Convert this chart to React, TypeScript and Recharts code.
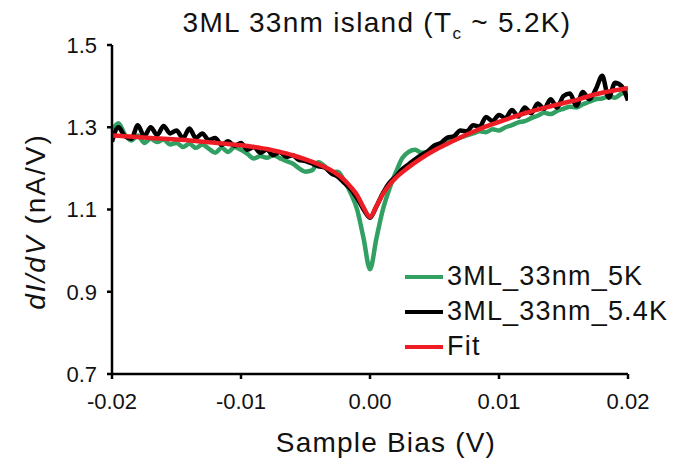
import { LineChart, Line, XAxis, YAxis, Label } from 'recharts'

// sample bias (V), 0.5 mV steps
const bias = [
  -0.02, -0.0195, -0.019, -0.0185, -0.018, -0.0175, -0.017, -0.0165, -0.016, -0.0155,
  -0.015, -0.0145, -0.014, -0.0135, -0.013, -0.0125, -0.012, -0.0115, -0.011, -0.0105,
  -0.01, -0.0095, -0.009, -0.0085, -0.008, -0.0075, -0.007, -0.0065, -0.006, -0.0055,
  -0.005, -0.0045, -0.004, -0.0035, -0.003, -0.0025, -0.002, -0.0015, -0.001, -0.0005,
  0, 0.0005, 0.001, 0.0015, 0.002, 0.0025, 0.003, 0.0035, 0.004, 0.0045,
  0.005, 0.0055, 0.006, 0.0065, 0.007, 0.0075, 0.008, 0.0085, 0.009, 0.0095,
  0.01, 0.0105, 0.011, 0.0115, 0.012, 0.0125, 0.013, 0.0135, 0.014, 0.0145,
  0.015, 0.0155, 0.016, 0.0165, 0.017, 0.0175, 0.018, 0.0185, 0.019, 0.0195, 0.02
]

const didv5K = [
  1.29, 1.31, 1.282, 1.268, 1.28, 1.262, 1.272, 1.264, 1.27, 1.258,
  1.262, 1.252, 1.26, 1.25, 1.258, 1.248, 1.238, 1.25, 1.24, 1.252,
  1.245, 1.235, 1.224, 1.23, 1.226, 1.232, 1.225, 1.218, 1.212, 1.2,
  1.192, 1.195, 1.215, 1.205, 1.19, 1.192, 1.17, 1.14, 1.1, 1.03,
  0.955, 1.03, 1.1, 1.15, 1.19, 1.225, 1.24, 1.245, 1.238, 1.24,
  1.25, 1.255, 1.265, 1.268, 1.275, 1.28, 1.285, 1.29, 1.288, 1.295,
  1.292, 1.3, 1.305, 1.312, 1.315, 1.322, 1.328, 1.335, 1.332, 1.34,
  1.345, 1.35, 1.348, 1.356, 1.362, 1.368, 1.37, 1.375, 1.372, 1.382, 1.385
]

const didv54K = [
  1.265, 1.3, 1.278, 1.272, 1.305, 1.278, 1.3, 1.281, 1.303, 1.285,
  1.292, 1.273, 1.297, 1.274, 1.285, 1.269, 1.274, 1.257, 1.266, 1.255,
  1.262, 1.245, 1.252, 1.238, 1.246, 1.232, 1.24, 1.228, 1.232, 1.22,
  1.218, 1.212, 1.205, 1.202, 1.188, 1.18, 1.165, 1.15, 1.128, 1.1,
  1.08, 1.108, 1.14, 1.165, 1.18, 1.198, 1.21, 1.222, 1.233, 1.242,
  1.256, 1.262, 1.275, 1.278, 1.292, 1.29, 1.305, 1.302, 1.325, 1.315,
  1.33, 1.322, 1.342, 1.326, 1.348, 1.334, 1.358, 1.345, 1.368, 1.348,
  1.376, 1.382, 1.352, 1.386, 1.368, 1.392, 1.425, 1.372, 1.408, 1.4, 1.365
]

const fitBias = [
  -0.02, -0.019, -0.018, -0.017, -0.016, -0.015, -0.014, -0.013, -0.012, -0.011,
  -0.01, -0.009, -0.008, -0.007, -0.006, -0.005, -0.004, -0.003, -0.002, -0.0015,
  -0.001, -0.0005, 0, 0.0005, 0.001, 0.0015, 0.002, 0.003, 0.004, 0.005,
  0.006, 0.007, 0.008, 0.009, 0.01, 0.011, 0.012, 0.013, 0.014, 0.015,
  0.016, 0.017, 0.018, 0.019, 0.02
]

const fitValues = [
  1.28, 1.278, 1.276, 1.274, 1.272, 1.27, 1.268, 1.265, 1.262, 1.259,
  1.256, 1.252, 1.247, 1.24, 1.232, 1.222, 1.21, 1.195, 1.172, 1.155,
  1.135, 1.105, 1.082, 1.108, 1.138, 1.16, 1.177, 1.203, 1.225, 1.244,
  1.26, 1.275, 1.289, 1.302, 1.313, 1.324, 1.334, 1.343, 1.351, 1.359,
  1.366, 1.376, 1.384, 1.39, 1.395
]

const xTicks = [-0.02, -0.01, 0, 0.01, 0.02]
const yTicks = [0.7, 0.9, 1.1, 1.3, 1.5]

const seriesNames = ['3ML_33nm_5K', '3ML_33nm_5.4K', 'Fit']
const seriesColors = ['#31a062', '#000000', '#ee1c24']

const FONT = '"Liberation Sans", Arial, sans-serif'

const measured = bias.map((x, i) => ({ x, g: didv5K[i], b: didv54K[i] }))
const fitted = fitBias.map((x, i) => ({ x, fit: fitValues[i] }))

function LegendBox() {
  return (
    <div
      style={{
        position: 'absolute', left: 405, top: 259,
        fontFamily: FONT, fontSize: 27, letterSpacing: 1.2, color: '#111', lineHeight: 1
      }}
    >
      {seriesNames.map((name, i) => (
        <div key={name} style={{ display: 'flex', alignItems: 'center', height: 35 }}>
          <span style={{ width: 38, height: 4, background: seriesColors[i], marginRight: 4 }} />
          <span>{name}</span>
        </div>
      ))}
    </div>
  )
}

export default function App() {
  return (
    <div style={{ position: 'relative', width: 681, height: 467, background: '#fff' }}>
      <style>{'body{margin:0}'}</style>
      <LineChart
        width={681}
        height={467}
        margin={{ top: 45, right: 53, bottom: 53, left: 47 }}
        style={{ fontFamily: FONT }}
      >
        <XAxis
          type="number"
          dataKey="x"
          domain={[-0.02, 0.02]}
          ticks={xTicks}
          tickFormatter={(v: number) => v.toFixed(2)}
          allowDataOverflow
          height={40}
          stroke="#000"
          strokeWidth={2.5}
          tickSize={5}
          tickMargin={14}
          tick={{ fill: '#111', fontSize: 22 }}
        >
          <Label
            content={(props: any) => {
              const vb = props.viewBox
              return (
                <text
                  x={vb.x + vb.width / 2 + 16}
                  y={vb.y + 78}
                  textAnchor="middle"
                  fontSize={28}
                  letterSpacing={1.2}
                  fill="#111"
                >
                  Sample Bias (V)
                </text>
              )
            }}
          />
        </XAxis>
        <YAxis
          type="number"
          domain={[0.7, 1.5]}
          ticks={yTicks}
          tickFormatter={(v: number) => v.toFixed(1)}
          allowDataOverflow
          width={65}
          stroke="#000"
          strokeWidth={2.5}
          tickSize={5}
          tickMargin={10}
          tick={{ fill: '#111', fontSize: 22 }}
        >
          <Label
            content={(props: any) => {
              const vb = props.viewBox
              const cx = 35
              const cy = vb.y + vb.height / 2 + 12
              return (
                <text
                  x={cx}
                  y={cy}
                  transform={`rotate(-90 ${cx} ${cy})`}
                  textAnchor="middle"
                  dominantBaseline="central"
                  fontSize={28}
                  letterSpacing={2}
                  fill="#111"
                >
                  <tspan fontStyle="italic">dI/dV</tspan>
                  <tspan> (nA/V)</tspan>
                </text>
              )
            }}
          />
        </YAxis>
        <Line
          data={measured}
          dataKey="g"
          name={seriesNames[0]}
          stroke={seriesColors[0]}
          strokeWidth={4.5}
          dot={false}
          type="monotone"
          isAnimationActive={false}
        />
        <Line
          data={measured}
          dataKey="b"
          name={seriesNames[1]}
          stroke={seriesColors[1]}
          strokeWidth={4.5}
          dot={false}
          type="monotone"
          isAnimationActive={false}
        />
        <Line
          data={fitted}
          dataKey="fit"
          name={seriesNames[2]}
          stroke={seriesColors[2]}
          strokeWidth={4.5}
          dot={false}
          type="monotone"
          isAnimationActive={false}
        />
      </LineChart>
      <div
        style={{
          position: 'absolute', top: 6, left: 0, width: 754, textAlign: 'center',
          fontFamily: FONT, fontSize: 28, letterSpacing: 1.3, color: '#111',
          whiteSpace: 'nowrap', lineHeight: 1.2
        }}
      >
        3ML 33nm island (T<sub style={{ fontSize: 17, lineHeight: 0 }}>c</sub> ~ 5.2K)
      </div>
      <LegendBox />
    </div>
  )
}
